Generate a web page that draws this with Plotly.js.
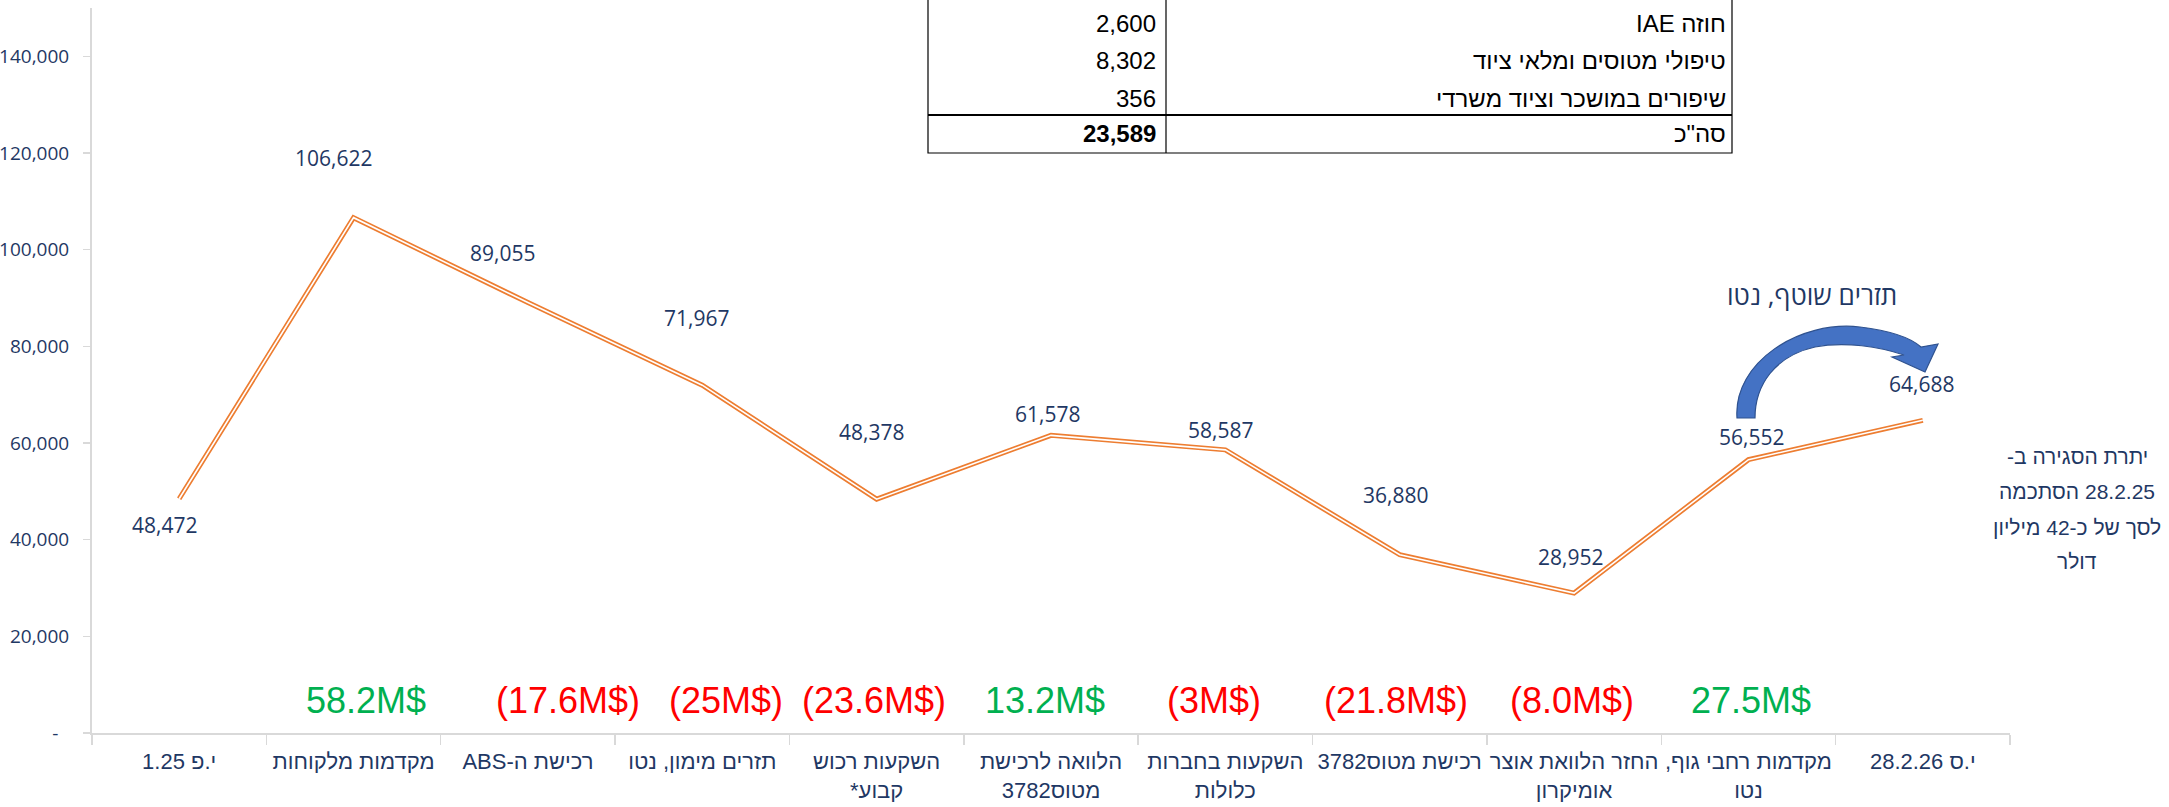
<!DOCTYPE html>
<html>
<head>
<meta charset="utf-8">
<script src="https://cdn.plot.ly/plotly-3.0.1.min.js"></script>
<style>
  html, body { margin: 0; padding: 0; background: #ffffff; }
  #chart { width: 2169px; height: 807px; }
</style>
</head>
<body>
<div id="chart"></div>
<script>
// category labels (x axis)
var categories = [
    "י.פ 1.25",
    "מקדמות מלקוחות",
    "רכישת ה-ABS",
    "תזרים מימון, נטו",
    "השקעות רכוש<br>קבוע*",
    "הלוואה לרכישת<br>מטוס3782",
    "השקעות בחברות<br>כלולות",
    "רכישת מטוס3782",
    "החזר הלוואת אוצר<br>אומיקרון",
    "מקדמות רחבי גוף,<br>נטו",
    "י.ס 28.2.26"
];

// cash balance, thousands $
var balances = [48472, 106622, 89055, 71967, 48378, 61578, 58587, 36880, 28952, 56552, 64688];

// movement written under each step
var flowLabels = ["", "58.2M$", "(17.6M$)", "(25M$)", "(23.6M$)", "13.2M$", "(3M$)", "(21.8M$)", "(8.0M$)", "27.5M$", ""];

var yTickVals = [0, 20000, 40000, 60000, 80000, 100000, 120000, 140000];
var yTickText = ["-\u2007", "20,000", "40,000", "60,000", "80,000", "100,000", "120,000", "140,000"];

// small table at the top
var tableLabels = ["חוזה IAE", "טיפולי מטוסים ומלאי ציוד", "שיפורים במושכר וציוד משרדי", "סה\"כ"];
var tableValues = [2600, 8302, 356, 23589];

var noteLines = ["יתרת הסגירה ב-", "28.2.25 הסתכמה", "לסך של כ-42 מיליון", "דולר"];
var arrowLabel = "תזרים שוטף, נטו";

// label offsets in pixels (placement only)
var labelShiftX = [-15, -20, -25, -6, -5, -4, -5, -4, -4, 3, -1];
var labelShiftY = [-26, 60, 50, 67, 67, 21, 20, 60, 36, 23, 36];
var flowShiftX = [0, 12, 40, 24, -3, -6, -11, -4, -2, 3, 0];

var navy = "#1F3864";
var sans = "Liberation Sans, Arial, sans-serif";

// hebrew text is written right-to-left, each line on its own
function rtl(s) {
    return s.split("<br>").map(function (line) {
        return "\u202B" + line + "\u202C";
    }).join("<br>");
}

// plot area in pixels, used for the decorations
var L = 92, R = 2010, T = 8, B = 733;
function px(x) { return (x - L) / (R - L); }
function py(y) { return (B - y) / (B - T); }

function fmt(n) {
    return n.toString().replace(/\B(?=(\d{3})+(?!\d))/g, ",");
}

var traces = [
    {
        type: "scatter", mode: "lines",
        x: categories, y: balances,
        line: { color: "#ED7D31", width: 5 },
        hoverinfo: "skip"
    },
    {
        type: "scatter", mode: "lines",
        x: categories, y: balances,
        line: { color: "#ffffff", width: 1.6 },
        hoverinfo: "skip"
    }
];

var annotations = [];

balances.forEach(function (v, i) {
    annotations.push({
        x: categories[i], y: v, xref: "x", yref: "y",
        text: fmt(v), showarrow: false,
        xshift: labelShiftX[i], yshift: labelShiftY[i],
        font: { family: "Open Sans", size: 21, color: navy }
    });
});

flowLabels.forEach(function (t, i) {
    if (!t) return;
    var neg = t.charAt(0) === "(";
    annotations.push({
        x: categories[i], y: 6800, xref: "x", yref: "y",
        text: t, showarrow: false, xshift: flowShiftX[i],
        font: { family: sans, size: 36, color: neg ? "#FF0000" : "#00B050" }
    });
});

// table text
var rowY = [23, 61, 99, 134];
tableLabels.forEach(function (lab, i) {
    annotations.push({
        xref: "paper", yref: "paper", x: px(1728), y: py(rowY[i]),
        xanchor: "right", yanchor: "middle", showarrow: false,
        text: rtl(lab),
        font: { family: sans, size: 24, color: "#000000" }
    });
    annotations.push({
        xref: "paper", yref: "paper", x: px(1158), y: py(rowY[i]),
        xanchor: "right", yanchor: "middle", showarrow: false,
        text: i === 3 ? "<b>" + fmt(tableValues[i]) + "</b>" : fmt(tableValues[i]),
        font: { family: sans, size: 24, color: "#000000" }
    });
});

// closing note on the right, one annotation per line
var noteY = [456, 492, 527, 561];
noteLines.forEach(function (t, i) {
    annotations.push({
        xref: "paper", yref: "paper", x: px(2077), y: py(noteY[i]),
        xanchor: "center", yanchor: "middle", showarrow: false,
        text: rtl(t),
        font: { family: sans, size: 21, color: navy }
    });
});

// arrow caption
annotations.push({
    xref: "paper", yref: "paper", x: px(1812), y: py(295),
    xanchor: "center", yanchor: "middle", showarrow: false,
    text: rtl(arrowLabel),
    font: { family: "Open Sans", size: 26, color: navy }
});

function pt(x, y) { return px(x) + "," + py(y); }

var arrowPath =
    "M" + pt(1737, 418) +
    " C" + pt(1733, 362) + " " + pt(1800, 320) + " " + pt(1860, 327) +
    " C" + pt(1893, 331) + " " + pt(1912, 339) + " " + pt(1921, 347) +
    " L" + pt(1938, 344) +
    " L" + pt(1925, 372) +
    " L" + pt(1892, 357) +
    " L" + pt(1904, 355) +
    " C" + pt(1880, 347) + " " + pt(1845, 341) + " " + pt(1815, 347) +
    " C" + pt(1775, 356) + " " + pt(1755, 385) + " " + pt(1755, 418) + " Z";

var shapes = [
    // table frame
    { type: "rect", xref: "paper", yref: "paper", layer: "above",
      x0: px(928), x1: px(1732), y0: py(153), y1: py(-10),
      fillcolor: "#ffffff", line: { color: "#000000", width: 1.2 } },
    { type: "line", xref: "paper", yref: "paper", layer: "above",
      x0: px(1166), x1: px(1166), y0: py(153), y1: py(-10),
      line: { color: "#000000", width: 1.2 } },
    { type: "line", xref: "paper", yref: "paper", layer: "above",
      x0: px(928), x1: px(1732), y0: py(115), y1: py(115),
      line: { color: "#000000", width: 2.2 } },
    // curved arrow
    { type: "path", xref: "paper", yref: "paper", layer: "above",
      path: arrowPath, fillcolor: "#4472C4", line: { color: "#2F528F", width: 1.2 } }
];

var layout = {
    width: 2169, height: 807,
    margin: { l: L, r: 2169 - R, t: T, b: 807 - B },
    paper_bgcolor: "#ffffff", plot_bgcolor: "#ffffff",
    showlegend: false,
    hovermode: false,
    xaxis: {
        type: "category",
        range: [-0.5, categories.length - 0.5],
        tickmode: "array",
        tickvals: categories,
        ticktext: categories.map(rtl),
        showgrid: false, zeroline: false,
        showline: true, linecolor: "#D9D9D9", linewidth: 2,
        ticks: "outside", tickson: "boundaries", ticklen: 10, tickwidth: 1.5, tickcolor: "#D9D9D9",
        ticklabelstandoff: 8,
        tickangle: 0,
        tickfont: { family: sans, size: 22, color: navy },
        automargin: false
    },
    yaxis: {
        range: [0, 150000],
        tickvals: yTickVals, ticktext: yTickText,
        showgrid: false, zeroline: false,
        showline: true, linecolor: "#D9D9D9", linewidth: 2,
        ticks: "outside", ticklen: 7, tickwidth: 1.5, tickcolor: "#D9D9D9",
        ticklabelstandoff: 10,
        tickfont: { family: "Open Sans", size: 19, color: navy },
        automargin: false
    },
    annotations: annotations,
    shapes: shapes
};

Plotly.newPlot("chart", traces, layout, { displayModeBar: false, staticPlot: true });
</script>
</body>
</html>
